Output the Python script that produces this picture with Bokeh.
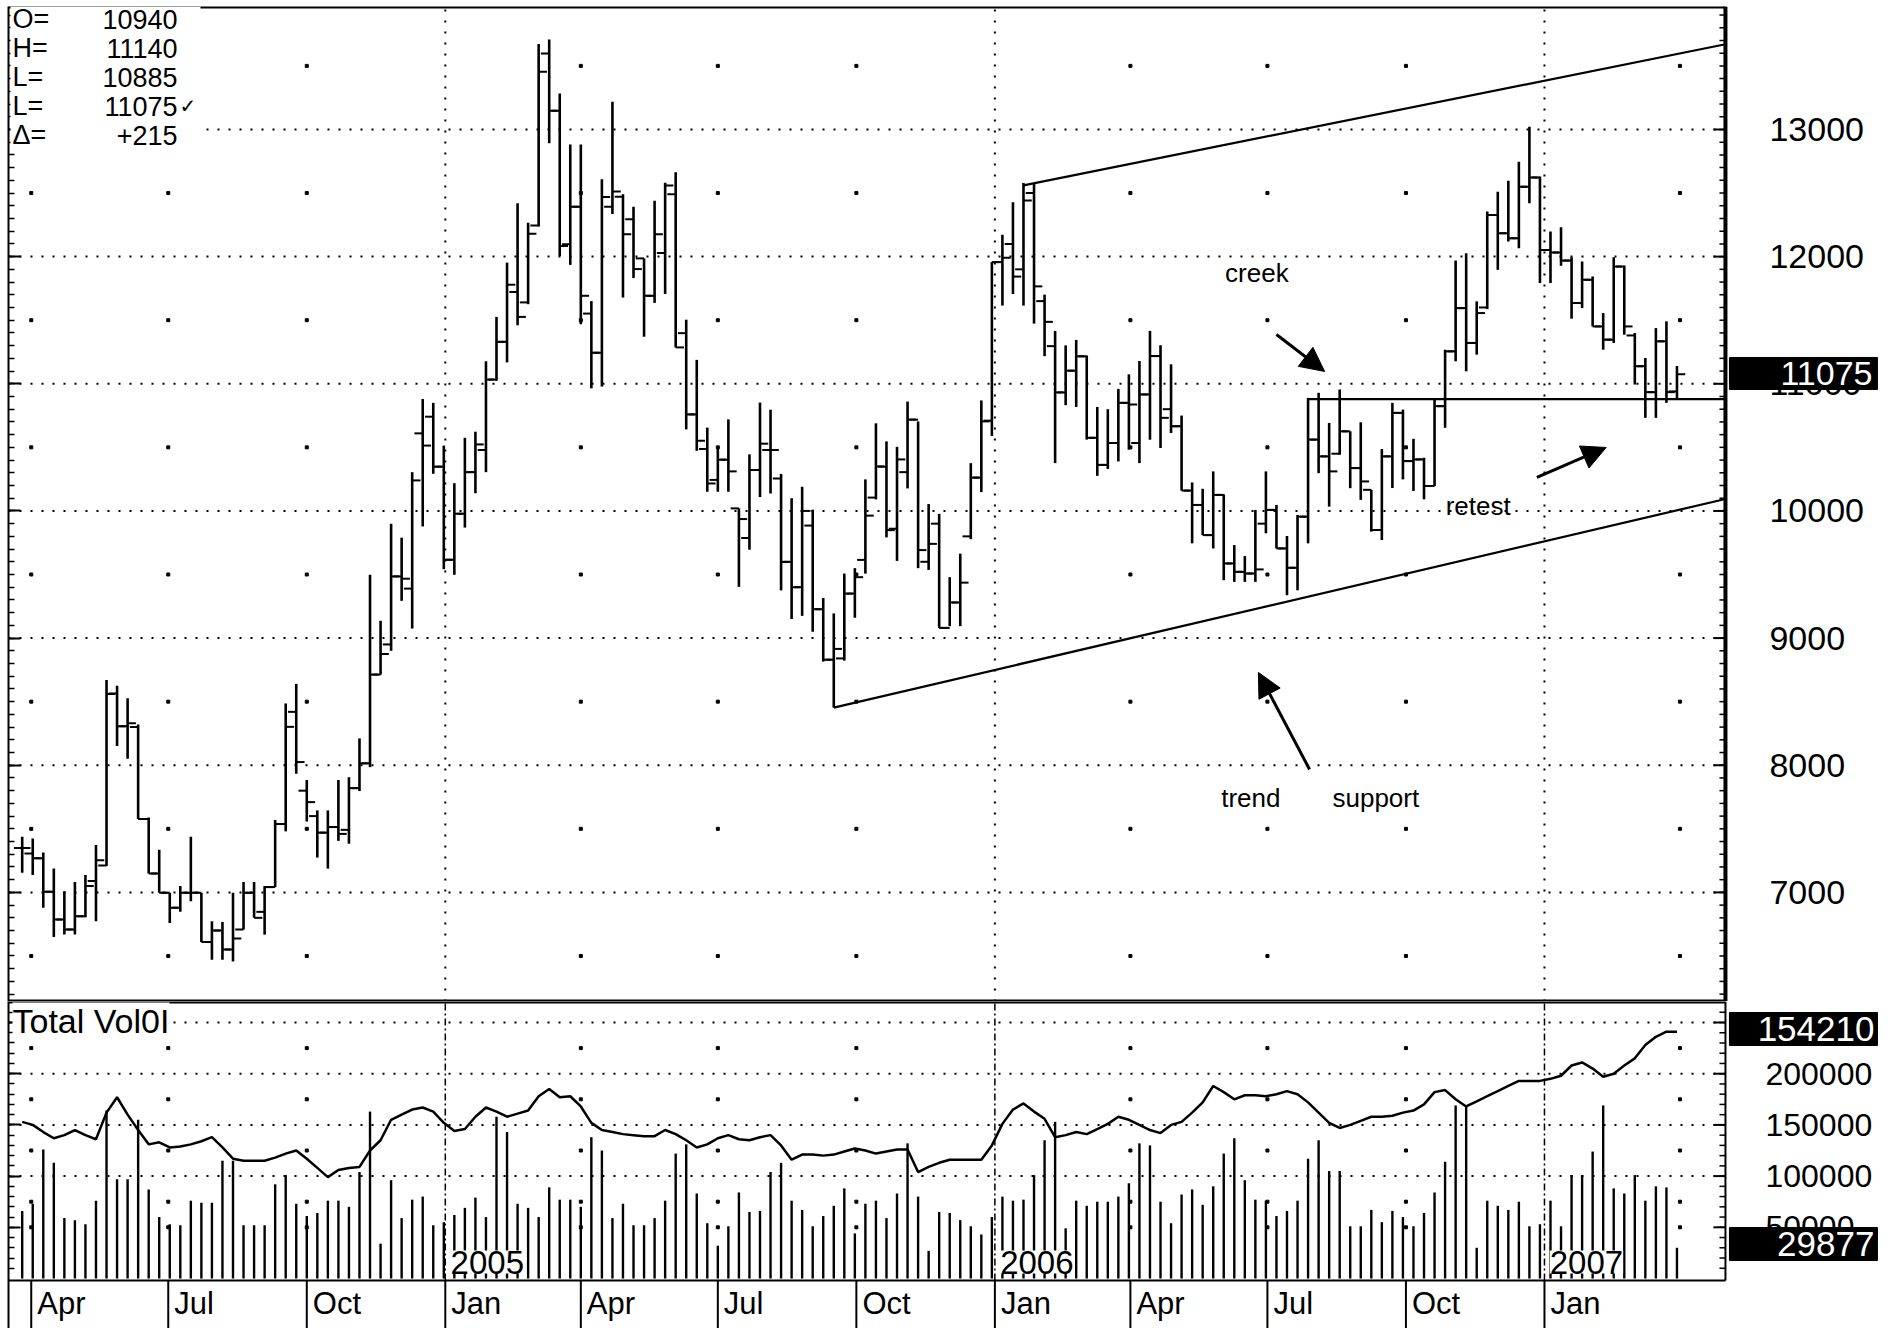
import numpy as np
import pandas as pd
from bokeh.plotting import figure
from bokeh.layouts import column
from bokeh.core.properties import value
from bokeh.models import (Range1d, LinearAxis, FixedTicker, CustomJSTickFormatter,
                          Label, BoxAnnotation, Arrow, NormalHead, ColumnDataSource, Grid)
from bokeh.embed import file_html
from bokeh.resources import INLINE

# ---------------- data (weekly bars) ----------------
first_week = "2004-03-26"

opens = [7350, 7306, 7269, 7005, 6787, 6708, 6813, 7090, 7211, 8565,
         8307, 8300, 7577, 7148, 6997, 6879, 6997, 6997, 6610, 6700,
         6550, 6708, 6997, 6847, 7042, 7538, 8420, 7800, 7600, 7470,
         7514, 7492, 7820, 8015, 8713, 8950, 9485, 9389, 10610, 10741,
         10348, 9616, 9978, 10305, 10479, 11033, 11330, 11722, 11640, 12245,
         13597, 13148, 12098, 12392, 11552, 11244, 12392, 12470, 12294, 11986,
         11692, 12028, 12490, 11398, 10759, 10487, 10244, 10403, 10020, 9787,
         10322, 10479, 10255, 9600, 9400, 9885, 9227, 8830, 8840, 9350,
         9615, 10105, 10348, 9860, 10305, 10718, 9600, 9900, 9080, 9280,
         9800, 10262, 10710, 11957, 12100, 11900, 12500, 11650, 11296, 10932,
         11103, 11216, 10575, 10362, 10534, 10850, 10534, 10916, 11218, 10800,
         10666, 10160, 10047, 9810, 10126, 9587, 9521, 9508, 9900, 10008,
         9705, 9553, 9955, 10561, 10429, 10450, 10626, 10337, 10166, 9850,
         10429, 10771, 10392, 10405, 10196, 10824, 11255, 11595, 11321, 11600,
         12328, 12184, 12145, 12550, 12623, 12053, 12032, 11969, 11635, 11818,
         11451, 11347, 11922, 11380, 11138, 10934, 11334, 10940]
highs = [7437, 7424, 7314, 7187, 7010, 7082, 7137, 7372, 8671, 8626,
         8526, 8320, 7590, 7335, 6997, 7050, 7437, 6997, 6773, 6768,
         6997, 7082, 7082, 7050, 7569, 8486, 8640, 7884, 7645, 7645,
         7884, 7906, 8211, 9498, 9136, 9899, 9790, 10305, 10880, 10850,
         10514, 10218, 10575, 10623, 11177, 11526, 11953, 12420, 12267, 13672,
         13707, 13283, 12882, 12882, 11650, 12608, 13218, 12490, 12392, 11986,
         12440, 12580, 12664, 11504, 11188, 10655, 10487, 10720, 10020, 10445,
         10852, 10796, 10291, 10100, 10190, 10010, 9315, 9194, 9507, 9550,
         10248, 10689, 10547, 10504, 10860, 10704, 10054, 9977, 9479, 9664,
         10376, 10869, 11957, 12171, 12427, 12578, 12578, 11701, 11416, 11302,
         11345, 11222, 10818, 10800, 10960, 11074, 11179, 11416, 11303, 11153,
         10750, 10224, 10174, 10311, 10130, 9732, 9645, 10008, 10311, 10047,
         9803, 9968, 10889, 10929, 10692, 10955, 10626, 10697, 10166, 10487,
         10850, 10797, 10567, 10418, 10876, 11268, 11969, 12027, 11648, 12354,
         12511, 12597, 12746, 13021, 12630, 12197, 12231, 11995, 11962, 11844,
         11556, 11995, 11930, 11399, 11203, 11438, 11491, 11140]
lows = [7155, 7137, 6879, 6650, 6668, 6668, 6805, 6773, 7208, 8152,
        8051, 7577, 7148, 6997, 6760, 6847, 6931, 6610, 6470, 6470,
        6457, 6708, 6800, 6668, 7042, 7480, 7933, 7557, 7274, 7187,
        7405, 7383, 7797, 7985, 8713, 8900, 9293, 9075, 9878, 10292,
        9542, 9498, 9869, 10139, 10305, 11024, 11168, 11460, 11626, 12237,
        12891, 12005, 11935, 11468, 10964, 10978, 12336, 11678, 11832, 11370,
        11636, 11706, 11286, 10641, 10473, 10151, 10151, 10151, 9403, 9695,
        10109, 10137, 9375, 9150, 9175, 9050, 8815, 8453, 8823, 9160,
        9507, 10091, 9792, 9607, 10177, 9550, 9536, 9080, 9094, 9094,
        9778, 10148, 10590, 11615, 11706, 11615, 11473, 11217, 10376, 10832,
        10818, 10561, 10276, 10330, 10389, 10482, 10376, 10560, 10495, 10613,
        10160, 9745, 9810, 9705, 9455, 9442, 9442, 9442, 9824, 9705,
        9337, 9376, 9745, 10297, 10034, 10442, 10179, 10087, 9837, 9771,
        10180, 10248, 10157, 10091, 10196, 10654, 11177, 11098, 11229, 11587,
        11896, 12119, 12066, 12419, 11792, 11792, 11928, 11512, 11595, 11451,
        11268, 11321, 11386, 10994, 10732, 10732, 10850, 10885]
closes = [7350, 7269, 7005, 6787, 6708, 6813, 7050, 7253, 8560, 8307,
          8330, 7577, 7148, 6997, 6879, 6997, 6997, 6610, 6700, 6550,
          6637, 6997, 6800, 7042, 7538, 8302, 8025, 7710, 7470, 7514,
          7460, 7820, 8015, 8713, 8875, 9485, 9467, 10240, 10514, 10348,
          9616, 9978, 10305, 10523, 11033, 11330, 11779, 11526, 12180, 13454,
          13148, 12084, 12392, 11692, 11244, 12468, 12513, 12176, 11902, 11692,
          12176, 12560, 11286, 10759, 10552, 10216, 10403, 10311, 9936, 10322,
          10529, 10479, 9599, 9400, 10000, 9227, 8830, 8915, 9350, 9479,
          9963, 10350, 9849, 10405, 10718, 9692, 9741, 9080, 9280, 9436,
          10262, 10704, 11957, 11991, 11843, 12442, 11766, 11487, 10932, 11103,
          11216, 10575, 10362, 10534, 10850, 10837, 10916, 11218, 10732, 10666,
          10160, 10047, 9810, 10126, 9587, 9521, 9508, 9540, 10008, 9705,
          9553, 9955, 10561, 10429, 10311, 10626, 10337, 10232, 9850, 10429,
          10771, 10392, 10405, 10196, 10824, 11255, 11595, 11321, 11556, 12328,
          12184, 12145, 12550, 12623, 12053, 12032, 11969, 11635, 11818, 11451,
          11347, 11922, 11451, 11138, 10934, 11334, 10934, 11075]

volume_k = [66, 73, 126, 113, 59, 57, 53, 76, 164, 97,
            97, 155, 87, 60, 53, 52, 76, 74, 74, 115,
            115, 52, 52, 52, 92, 101, 73, 61, 64, 76,
            76, 70, 104, 163, 34, 96, 59, 77, 80, 52,
            55, 62, 69, 79, 60, 158, 143, 73, 69, 60,
            89, 77, 77, 70, 138, 125, 59, 73, 52, 52,
            59, 76, 122, 131, 83, 54, 32, 51, 84, 65,
            66, 104, 113, 76, 67, 51, 61, 71, 88, 44,
            73, 76, 59, 83, 132, 80, 27, 65, 64, 57,
            51, 43, 60, 80, 76, 77, 101, 135, 153, 49,
            76, 71, 75, 75, 80, 93, 132, 130, 75, 54,
            82, 87, 72, 90, 122, 137, 96, 77, 76, 61,
            66, 76, 117, 135, 105, 105, 51, 51, 67, 55,
            66, 60, 51, 64, 84, 114, 169, 169, 30, 76,
            71, 67, 75, 51, 53, 76, 51, 101, 101, 124,
            169, 88, 83, 101, 76, 90, 89, 30]

open_interest_k = [153, 150, 143, 137, 140, 145, 140, 136, 162, 177,
                   160, 145, 131, 133, 128, 129, 131, 134, 138, 128,
                   117, 115, 115, 115, 118, 122, 125, 117, 108, 99,
                   106, 108, 109, 125, 135, 155, 160, 165, 167, 163,
                   152, 144, 146, 158, 167, 163, 158, 161, 164, 178,
                   185, 177, 178, 168, 152, 145, 143, 141, 140, 139,
                   139, 145, 141, 135, 128, 131, 137, 140, 136, 135,
                   138, 140, 130, 116, 121, 121, 120, 121, 124, 127,
                   125, 122, 124, 126, 126, 104, 109, 113, 116, 116,
                   116, 116, 130, 151, 165, 171, 163, 156, 138, 140,
                   143, 141, 146, 151, 158, 155, 150, 145, 142, 150,
                   153, 162, 172, 188, 182, 175, 179, 179, 178, 180,
                   183, 180, 172, 162, 152, 147, 150, 154, 158, 158,
                   159, 162, 164, 170, 182, 184, 175, 168, 173, 178,
                   183, 188, 193, 193, 193, 195, 198, 208, 211, 205,
                   197, 200, 208, 215, 228, 236, 241, 241]

price_ticks = [7000, 8000, 9000, 10000, 11000, 12000, 13000]
price_tick_labels = ["7000", "8000", "9000", "10000", "11000", "12000", "13000"]
price_dot_levels = [6500, 7500, 8500, 9500, 10500, 11500, 12500, 13500]
volume_ticks = [50000, 100000, 150000, 200000, 250000]
volume_tick_labels = ["50000", "100000", "150000", "200000", "250000"]
volume_dotted = [100000, 150000, 200000, 250000]
volume_dot_levels = [50000, 75000, 125000, 175000, 225000]
quarter_starts = ["2004-04-01", "2004-07-01", "2004-10-01", "2005-01-01",
                  "2005-04-01", "2005-07-01", "2005-10-01", "2006-01-01",
                  "2006-04-01", "2006-07-01", "2006-10-01", "2007-01-01"]
month_labels = ["Apr", "Jul", "Oct", "Jan", "Apr", "Jul", "Oct", "Jan",
                "Apr", "Jul", "Oct", "Jan"]
dot_quarters = ["2004-04-01", "2004-07-01", "2004-10-01", "2005-04-01",
                "2005-07-01", "2005-10-01", "2006-04-01", "2006-07-01",
                "2006-10-01", "2007-04-01"]
year_starts = ["2005-01-01", "2006-01-01", "2007-01-01"]
year_labels = ["2005", "2006", "2007"]

header_keys = ["O=", "H=", "L=", "L=", "\u0394="]
header_values = ["10940", "11140", "10885", "11075", "+215"]

last_price_label = "11075"
last_oi_label = "154210"
last_volume_label = "29877"

# analyst's drawn lines
creek_level = 10880
creek_start_bar = 122
support_start_bar = 77
support_prices = [8453, 10094]
upper_start_bar = 95
upper_prices = [12560, 13670]

creek_arrow = ("2006-07-07", 11388, "2006-08-08", 11097)
trend_arrow = ("2006-07-29", 7967, "2006-06-25", 8730)
retest_arrow = ("2006-12-27", 10263, "2007-02-11", 10499)

# ---------------- helpers / layout ----------------
def ms(d):
    return pd.Timestamp(d).value / 1e6

PX_PER_DAY = 1.5057
def dpx(px):
    return pd.Timedelta(days=px / PX_PER_DAY)

t0 = pd.Timestamp(first_week)
dates = pd.date_range(first_week, periods=len(closes), freq="7D")
X0 = t0 - pd.Timedelta(days=9.1)          # left edge of plotting area
X1 = t0 + pd.Timedelta(days=1131.2)       # right edge of plotting area
XR = X0 + dpx(1885)                        # right edge of canvas
tick = pd.Timedelta(days=5.5)
FONT = "Liberation Sans"
INK = "black"

P_LO, P_HI = 6142, 13967
P_PER_PX = 1000 / 127.16
V_PER_PX = 50000 / 51.2
V_HI = 270518
V_LO = -48830
V_BASE = -1953

xr = Range1d(X0, XR)

# ---------------- price panel ----------------
p = figure(width=1893, height=1001, x_range=xr, y_range=Range1d(P_LO, P_HI),
           x_axis_type="datetime", x_axis_location=None, y_axis_location=None,
           output_backend="svg", toolbar_location=None,
           min_border_left=8, min_border_right=0, min_border_top=6, min_border_bottom=0,
           outline_line_color=None)
for r in list(p.center):
    if isinstance(r, Grid):
        r.visible = False

minor_price = list(range(6200, 14000, 100))
lax = LinearAxis(ticker=FixedTicker(ticks=price_ticks, minor_ticks=minor_price),
                 formatter=CustomJSTickFormatter(code="return ''"),
                 major_tick_in=12, minor_tick_in=6, major_tick_out=0, minor_tick_out=0,
                 major_tick_line_width=2, minor_tick_line_width=1.5, axis_line_width=2,
                 major_label_standoff=0, major_label_text_font_size="1px")
p.add_layout(lax, "left")

# borders of the plotting area
p.segment(x0=[X0, X0, X1], x1=[X1, X1, X1], y0=[P_HI, P_LO, P_LO], y1=[P_HI, P_LO, P_HI],
          line_color=INK, line_width=4)
# right ticks + labels
p.segment(x0=[X1 - dpx(6)] * len(minor_price), x1=[X1] * len(minor_price),
          y0=minor_price, y1=minor_price, line_color=INK, line_width=1.5)
p.segment(x0=[X1 - dpx(12)] * len(price_ticks), x1=[X1] * len(price_ticks),
          y0=price_ticks, y1=price_ticks, line_color=INK, line_width=2)
p.text(x=[X1 + dpx(44)] * len(price_ticks), y=price_ticks, text=price_tick_labels,
       text_font=value(FONT), text_font_size="34px", text_align="left",
       text_baseline="middle", text_color=INK)

# grid: dotted levels, year lines, sparse dots
p.segment(x0=[X0] * len(price_ticks), x1=[X1] * len(price_ticks), y0=price_ticks, y1=price_ticks,
          line_color=INK, line_width=2, line_dash="2 9")
yrs = pd.to_datetime(year_starts)
p.segment(x0=yrs, x1=yrs, y0=[P_LO] * 3, y1=[P_HI] * 3,
          line_color=INK, line_width=2, line_dash="2 9")
qd = pd.to_datetime(dot_quarters)
dx = [d for d in qd for _ in price_dot_levels]
dy = [lv for _ in qd for lv in price_dot_levels]
p.scatter(dx, dy, marker="square", size=3, color=INK)

# OHLC bars
src = ColumnDataSource(dict(x=dates, xo=dates - tick, xc=dates + tick,
                            o=opens, h=highs, l=lows, c=closes))
p.segment(x0="x", x1="x", y0="l", y1="h", source=src, line_color=INK, line_width=2.6)
p.segment(x0="xo", x1="x", y0="o", y1="o", source=src, line_color=INK, line_width=2)
p.segment(x0="x", x1="xc", y0="c", y1="c", source=src, line_color=INK, line_width=2)

# analyst lines
p.segment(x0=[dates[creek_start_bar]], x1=[X1], y0=[creek_level], y1=[creek_level],
          line_color=INK, line_width=2.2)
p.segment(x0=[dates[support_start_bar]], x1=[X1], y0=[support_prices[0]], y1=[support_prices[1]],
          line_color=INK, line_width=2.2)
p.segment(x0=[dates[upper_start_bar]], x1=[X1], y0=[upper_prices[0]], y1=[upper_prices[1]],
          line_color=INK, line_width=2.2)

for a in (creek_arrow, trend_arrow, retest_arrow):
    p.add_layout(Arrow(end=NormalHead(size=24, fill_color=INK, line_color=INK),
                       x_start=ms(a[0]), y_start=a[1], x_end=ms(a[2]), y_end=a[3],
                       line_color=INK, line_width=3))

ann_font = dict(text_font=FONT, text_font_size="26px", text_color=INK,
                text_baseline="middle", text_align="center")
p.add_layout(Label(x=ms("2006-06-24"), y=11868, text="creek", **ann_font))
p.add_layout(Label(x=ms("2006-06-20"), y=7739, text="trend", **ann_font))
p.add_layout(Label(x=ms("2006-09-11"), y=7739, text="support", **ann_font))
p.add_layout(Label(x=ms("2006-11-18"), y=10035, text="retest", **ann_font))

# header box
p.add_layout(BoxAnnotation(left=ms(X0 + dpx(2)), right=ms(X0 + dpx(192)), top=P_HI, bottom=12874,
                           fill_color="white", fill_alpha=1.0, line_color=None))
for i, (k, val) in enumerate(zip(header_keys, header_values)):
    yy = 13865 - i * 228
    p.add_layout(Label(x=ms(X0 + dpx(4)), y=yy, text=k, text_font=FONT, text_color=INK,
                       text_font_size="27px", text_baseline="middle"))
    p.add_layout(Label(x=ms(X0 + dpx(169)), y=yy, text=val, text_font=FONT, text_color=INK,
                       text_font_size="27px", text_baseline="middle", text_align="right"))
p.add_layout(Label(x=ms(X0 + dpx(171)), y=13181, text="\u2713", text_font="DejaVu Sans",
                   text_color=INK, text_font_size="20px", text_baseline="middle"))

# last price box
p.quad(left=[X1 + dpx(4)], right=[X1 + dpx(152)], bottom=[11081 - 16 * P_PER_PX],
       top=[11081 + 16 * P_PER_PX], fill_color=INK, line_color=INK)
p.text(x=[X1 + dpx(147)], y=[11081], text=[last_price_label], text_font=value(FONT),
       text_font_size="34px", text_align="right", text_baseline="middle", text_color="white")

# ---------------- volume / OI panel ----------------
v = figure(width=1893, height=327, x_range=xr, y_range=Range1d(V_LO, V_HI),
           x_axis_type="datetime", x_axis_location=None, y_axis_location=None,
           output_backend="svg", toolbar_location=None,
           min_border_left=8, min_border_right=0, min_border_top=0, min_border_bottom=0,
           outline_line_color=None)
for r in list(v.center):
    if isinstance(r, Grid):
        r.visible = False

minor_vol = list(range(10000, 270000, 10000))
vlax = LinearAxis(ticker=FixedTicker(ticks=volume_ticks, minor_ticks=minor_vol),
                  formatter=CustomJSTickFormatter(code="return ''"),
                  major_tick_in=12, minor_tick_in=6, major_tick_out=0, minor_tick_out=0,
                  major_tick_line_width=2, minor_tick_line_width=1.5, axis_line_width=2,
                  major_label_standoff=0, major_label_text_font_size="1px")
v.add_layout(vlax, "left")

v.segment(x0=[X0, X0, X1], x1=[X1, X1, X1], y0=[V_HI, V_BASE, V_BASE], y1=[V_HI, V_BASE, V_HI],
          line_color=INK, line_width=[4, 2, 2])
v.segment(x0=[X1 - dpx(6)] * len(minor_vol), x1=[X1] * len(minor_vol),
          y0=minor_vol, y1=minor_vol, line_color=INK, line_width=1.5)
v.segment(x0=[X1 - dpx(12)] * len(volume_ticks), x1=[X1] * len(volume_ticks),
          y0=volume_ticks, y1=volume_ticks, line_color=INK, line_width=2)
v.text(x=[X1 + dpx(40)] * len(volume_ticks), y=volume_ticks, text=volume_tick_labels,
       text_font=value(FONT), text_font_size="32px", text_align="left",
       text_baseline="middle", text_color=INK)

# time axis (below the plotting area)
qs = pd.to_datetime(quarter_starts)
v.segment(x0=qs, x1=qs, y0=[V_BASE] * len(qs), y1=[V_LO] * len(qs),
          line_color=INK, line_width=2)
v.text(x=qs + pd.Timedelta(days=4), y=[-24500] * len(qs), text=month_labels,
       text_font=value(FONT), text_font_size="31px", text_align="left",
       text_baseline="middle", text_color=INK)

v.segment(x0=[X0] * len(volume_dotted), x1=[X1] * len(volume_dotted), y0=volume_dotted,
          y1=volume_dotted, line_color=INK, line_width=2, line_dash="2 9")
v.segment(x0=yrs, x1=yrs, y0=[V_BASE] * 3, y1=[V_HI] * 3,
          line_color=INK, line_width=1.5, line_dash="7 3 2 3")
vdx = [d for d in qd for _ in volume_dot_levels]
vdy = [lv for _ in qd for lv in volume_dot_levels]
v.scatter(vdx, vdy, marker="square", size=3, color=INK)

vol = [x * 1000 for x in volume_k]
oi = [x * 1000 for x in open_interest_k]
v.segment(x0=dates, x1=dates, y0=[0] * len(vol), y1=vol, line_color=INK, line_width=2.4)
v.line(dates, oi, line_color=INK, line_width=2.5)

v.add_layout(Label(x=ms(X0 + dpx(4)), y=251000, text="Total Vol0I", text_font=FONT,
                   text_color=INK, text_font_size="34px", text_baseline="middle",
                   background_fill_color="white"))
for yd, yl in zip(yrs, year_labels):
    v.add_layout(Label(x=ms(yd + pd.Timedelta(days=3.5)), y=16000, text=yl, text_font=FONT,
                       text_color=INK, text_font_size="33px", text_baseline="middle",
                       background_fill_color="white"))

# last OI / volume boxes
v.quad(left=[X1 + dpx(4)] * 2, right=[X1 + dpx(152)] * 2,
       bottom=[(1278 - 1045) * V_PER_PX, (1278 - 1260) * V_PER_PX],
       top=[(1278 - 1012) * V_PER_PX, (1278 - 1227) * V_PER_PX],
       fill_color=INK, line_color=INK)
v.text(x=[X1 + dpx(149)] * 2, y=[(1278 - 1028) * V_PER_PX, (1278 - 1243) * V_PER_PX],
       text=[last_oi_label, last_volume_label], text_font=value(FONT),
       text_font_size="35px", text_align="right", text_baseline="middle", text_color="white")

layout = column(p, v, spacing=0)
open("out.html", "w").write(file_html(layout, INLINE))
